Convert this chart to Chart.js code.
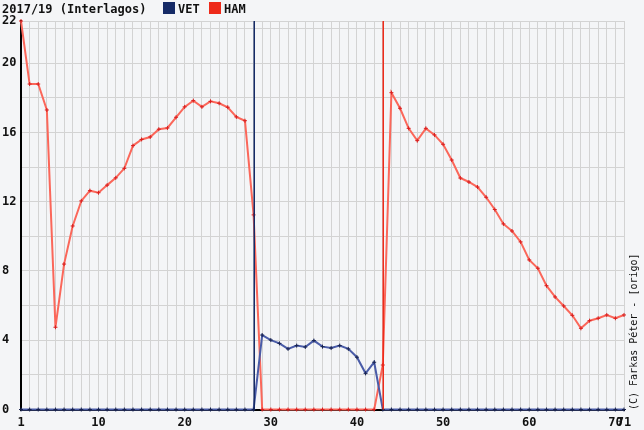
<!DOCTYPE html>
<html>
<head>
<meta charset="utf-8">
<title>2017/19 (Interlagos)</title>
<script src="https://cdn.jsdelivr.net/npm/chart.js@4/dist/chart.umd.min.js"></script>
<style>
  html, body { margin: 0; padding: 0; background: #f4f5f7; }
  #wrap { width: 644px; height: 430px; }
</style>
</head>
<body>
<div id="wrap"><canvas id="chart" width="644" height="430"></canvas></div>
<script>
const title = "2017/19 (Interlagos)";
const credit = "(C) Farkas Péter - [origo]";

const laps = Array.from({ length: 71 }, (_, i) => i + 1);
const xTickLabels = [1, 10, 20, 30, 40, 50, 60, 70, 71];

const yGrid = [0, 2, 4, 6, 8, 10, 12, 14, 16, 18, 20, 22];
const yTickLabels = [0, 4, 8, 12, 16, 20];
const yTop = 22.44;
const yTopLabel = "22";

const vet = [
  0, 0, 0, 0, 0, 0, 0, 0, 0, 0,
  0, 0, 0, 0, 0, 0, 0, 0, 0, 0,
  0, 0, 0, 0, 0, 0, 0, 0, 4.3, 4.01,
  3.82, 3.5, 3.69, 3.61, 3.98, 3.63, 3.55, 3.69, 3.5, 3.02,
  2.09, 2.73, 0, 0, 0, 0, 0, 0, 0, 0,
  0, 0, 0, 0, 0, 0, 0, 0, 0, 0,
  0, 0, 0, 0, 0, 0, 0, 0, 0, 0,
  0
];
const ham = [
  22.44, 18.8, 18.8, 17.3, 4.75, 8.4, 10.6, 12.05, 12.64, 12.52,
  12.96, 13.38, 13.93, 15.24, 15.6, 15.74, 16.19, 16.26, 16.88, 17.48,
  17.84, 17.48, 17.8, 17.69, 17.46, 16.9, 16.68, 11.24, 0, 0,
  0, 0, 0, 0, 0, 0, 0, 0, 0, 0,
  0, 0, 2.57, 18.3, 17.4, 16.24, 15.53, 16.24, 15.86, 15.32,
  14.41, 13.37, 13.14, 12.85, 12.26, 11.55, 10.72, 10.31, 9.68, 8.64,
  8.16, 7.15, 6.5, 5.98, 5.44, 4.69, 5.13, 5.27, 5.46, 5.27,
  5.46
];
const vetPit = [28];
const hamPit = [43];

const colors = {
  vetBox: "#152a66", vetLine: "#4a5ca8", vetPoint: "#17224f",
  hamBox: "#ee2a1a", hamLine: "#fb675a", hamPoint: "#d81e1e"
};
const monoBold = 'bold 12px "DejaVu Sans Mono"';

// pit stop markers, drawn over the grid
const pitLines = {
  id: "pitLines",
  afterDatasetsDraw(chart) {
    const { ctx, chartArea, scales } = chart;
    const draw = (list, color) => {
      list.forEach((lap) => {
        const x = Math.round(scales.x.getPixelForValue(laps.indexOf(lap)));
        ctx.save();
        ctx.globalCompositeOperation = "source-over";
        ctx.globalAlpha = 1;
        ctx.fillStyle = color;
        ctx.fillRect(x - 0.5, chartArea.top, 1.5, chartArea.bottom - chartArea.top);
        ctx.restore();
      });
    };
    draw(vetPit, colors.vetBox);
    draw(hamPit, colors.hamBox);
  }
};

// background, title + legend row, rotated credit
const decor = {
  id: "decor",
  beforeDraw(chart) {
    const { ctx } = chart;
    ctx.save();
    ctx.fillStyle = "#f4f5f7";
    ctx.fillRect(0, 0, chart.width, chart.height);
    ctx.restore();
  },
  afterDraw(chart) {
    const { ctx } = chart;
    ctx.save();
    ctx.font = monoBold;
    ctx.fillStyle = "#111";
    ctx.textBaseline = "alphabetic";
    ctx.textAlign = "left";
    ctx.fillText(title, 2, 13);

    ctx.fillStyle = colors.vetBox;
    ctx.fillRect(163, 2, 12, 12);
    ctx.fillStyle = "#111";
    ctx.fillText("VET", 178, 13);
    ctx.fillStyle = colors.hamBox;
    ctx.fillRect(209, 2, 12, 12);
    ctx.fillStyle = "#111";
    ctx.fillText("HAM", 224, 13);

    ctx.font = '10px "DejaVu Sans Mono"';
    ctx.translate(634, 410);
    ctx.rotate(-Math.PI / 2);
    ctx.textBaseline = "middle";
    ctx.fillText(credit, 0, 0);
    ctx.restore();
  }
};

new Chart(document.getElementById("chart"), {
  type: "line",
  data: {
    labels: laps,
    datasets: [
      {
        label: "VET",
        data: vet,
        borderColor: colors.vetLine,
        borderWidth: 2,
        pointStyle: "cross",
        pointRadius: 2,
        pointBorderWidth: 1,
        pointBorderColor: colors.vetPoint,
        tension: 0,
        clip: false
      },
      {
        label: "HAM",
        data: ham,
        borderColor: colors.hamLine,
        borderWidth: 2,
        pointStyle: "cross",
        pointRadius: 2,
        pointBorderWidth: 1,
        pointBorderColor: colors.hamPoint,
        tension: 0,
        clip: false
      }
    ]
  },
  options: {
    responsive: false,
    animation: false,
    layout: { padding: { left: 2, right: 20, top: 21, bottom: 0 } },
    plugins: {
      legend: { display: false },
      title: { display: false },
      tooltip: { enabled: false }
    },
    scales: {
      x: {
        type: "category",
        offset: false,
        grid: { color: "#d3d3d3", lineWidth: 1, drawTicks: false },
        border: { color: "#000", width: 2 },
        ticks: {
          autoSkip: false,
          maxRotation: 0,
          padding: 6,
          color: "#111",
          font: { family: "DejaVu Sans Mono", size: 12, weight: "bold" },
          callback(value) {
            const l = this.getLabelForValue(value);
            return xTickLabels.includes(l) ? String(l) : "";
          }
        },
        afterFit(scale) { scale.height = 20.5; }
      },
      y: {
        min: 0,
        max: yTop,
        grid: { color: "#d3d3d3", lineWidth: 1, drawTicks: false },
        border: { color: "#000", width: 2 },
        afterBuildTicks(scale) {
          scale.ticks = yGrid.concat([yTop]).map((v) => ({ value: v }));
        },
        ticks: {
          crossAlign: "far",
          padding: 0,
          color: "#111",
          font: { family: "DejaVu Sans Mono", size: 12, weight: "bold" },
          callback(value) {
            if (value === yTop) return yTopLabel;
            return yTickLabels.includes(value) ? String(value) : "";
          }
        },
        afterFit(scale) { scale.width = 19; }
      }
    }
  },
  plugins: [decor, pitLines]
});
</script>
</body>
</html>
